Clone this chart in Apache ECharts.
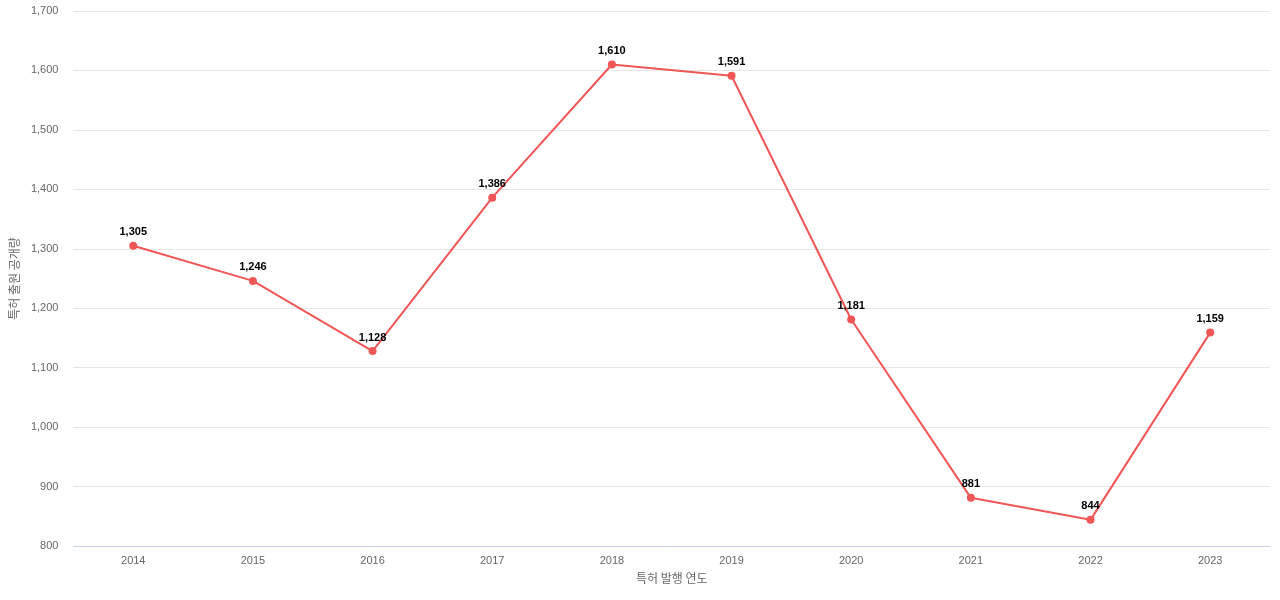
<!DOCTYPE html>
<html><head><meta charset="utf-8">
<script src="https://cdn.jsdelivr.net/npm/echarts@6/dist/echarts.min.js"></script>
<style>html,body{margin:0;padding:0}#c{width:1280px;height:600px}</style>
</head><body><div id="c"></div>
<script>
const years = ['2014','2015','2016','2017','2018','2019','2020','2021','2022','2023'];
const counts = [1305,1246,1128,1386,1610,1591,1181,881,844,1159];
const chart = echarts.init(document.getElementById('c'));
chart.setOption({
  grid:{left:73,right:10,top:11,bottom:54},
  xAxis:{type:'category',data:years,name:'특허 발행 연도',nameLocation:'middle',nameGap:26,
    nameTextStyle:{color:'#666',fontSize:12,fontFamily:'Noto Sans CJK KR'},
    axisTick:{show:false},axisLine:{lineStyle:{color:'#ccd6eb'}},
    axisLabel:{color:'#666',fontSize:11,margin:9}},
  yAxis:{type:'value',min:800,max:1700,interval:100,name:'특허 출원 공개량',nameLocation:'middle',nameGap:52,
    nameTextStyle:{color:'#666',fontSize:12,fontFamily:'Noto Sans CJK KR'},
    axisLabel:{color:'#666',fontSize:11,margin:15},
    splitLine:{lineStyle:{color:'#e6e6e6'}}},
  series:[{type:'line',data:counts,symbol:'circle',symbolSize:8,
    itemStyle:{color:'#f05656'},lineStyle:{color:'#f05656',width:2},
    label:{show:true,position:'top',distance:4,color:'#000',fontWeight:'bold',fontSize:11,
      formatter:p=>p.value.toLocaleString('en-US')}}]
});
</script></body></html>
